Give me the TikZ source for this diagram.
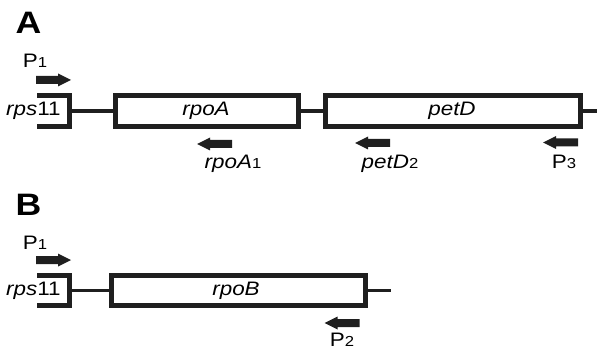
\documentclass[tikz,border=0pt]{standalone}
\usepackage{fontspec}
\setmainfont{Liberation Sans}[FakeStretch=1.15]
\begin{document}
\begin{tikzpicture}[x=1pt,y=-1pt,
  gene/.style={draw=black!88,line width=5pt,fill=white},
  link/.style={draw=black!88,line width=3.5pt},
  lbl/.style={inner sep=0pt,font=\fontsize{19.5}{21}\selectfont},
  panel/.style={inner sep=0pt,font=\fontsize{31}{33}\selectfont\bfseries},
  primerR/.pic={\fill[black!88] (-17.5,-4) -- (4.5,-4) -- (4.5,-6.5) -- (17.5,0) -- (4.5,6.5) -- (4.5,4) -- (-17.5,4) -- cycle;},
  primerL/.pic={\fill[black!88] (17.5,-4) -- (-4.5,-4) -- (-4.5,-6.5) -- (-17.5,0) -- (-4.5,6.5) -- (-4.5,4) -- (17.5,4) -- cycle;}
]
\newcommand{\sm}[1]{{\fontsize{14.5}{15}\selectfont #1}}
\useasboundingbox (0,0) rectangle (597,350);
% ---------- Panel A ----------
\node[panel,anchor=base] (labA) at (28.5,34) {A};
\node[lbl,anchor=base] (p1a) at (35,68) {P\sm{1}};
\pic at (53.5,80) {primerR};
% links
\coordinate (endA) at (597,111);
\draw[link] (69.5,111) -- (115,111);
\draw[link] (298,111) -- (326,111);
\draw[link] (580,111) -- (endA);
% rps11 bracket
\draw[gene,fill=none] (37,95.5) -- (69.5,95.5) -- (69.5,126.5) -- (37,126.5);
\node[lbl,anchor=west] (rpsA) at (6,111) {\textit{rps}11};
% boxes
\draw[gene] (115.5,95.5) rectangle (298.5,126.5);
\node[lbl] (rpoA) at (206,111) {\textit{rpoA}};
\draw[gene] (325.5,95.5) rectangle (580.5,126.5);
\node[lbl] (petD) at (452,111) {\textit{petD}};
% primers
\pic at (214.5,144) {primerL};
\node[lbl,anchor=base] (rpoA1) at (233,168) {\textit{rpoA}\sm{1}};
\pic at (372.5,143) {primerL};
\node[lbl,anchor=base] (petD2) at (390,168) {\textit{petD}\sm{2}};
\pic at (560.5,142.5) {primerL};
\node[lbl,anchor=base] (p3) at (564,168.5) {P\sm{3}};
% ---------- Panel B ----------
\node[panel,anchor=base] (labB) at (28.5,215) {B};
\node[lbl,anchor=base] (p1b) at (35,249) {P\sm{1}};
\pic at (53.5,260) {primerR};
\draw[link] (69.5,290.5) -- (112,290.5);
\draw[link] (365,290.5) -- (391,290.5);
\draw[gene,fill=none] (37,275.5) -- (69.5,275.5) -- (69.5,305.5) -- (37,305.5);
\node[lbl,anchor=west] (rpsB) at (6,290.5) {\textit{rps}11};
\draw[gene] (111.5,275.5) rectangle (365.5,305.5);
\node[lbl] (rpoB) at (236,290.5) {\textit{rpoB}};
\pic at (342,323) {primerL};
\node[lbl,anchor=base,text depth=0pt] (p2) at (342,346.5) {P\sm{2}};
\end{tikzpicture}
\end{document}
